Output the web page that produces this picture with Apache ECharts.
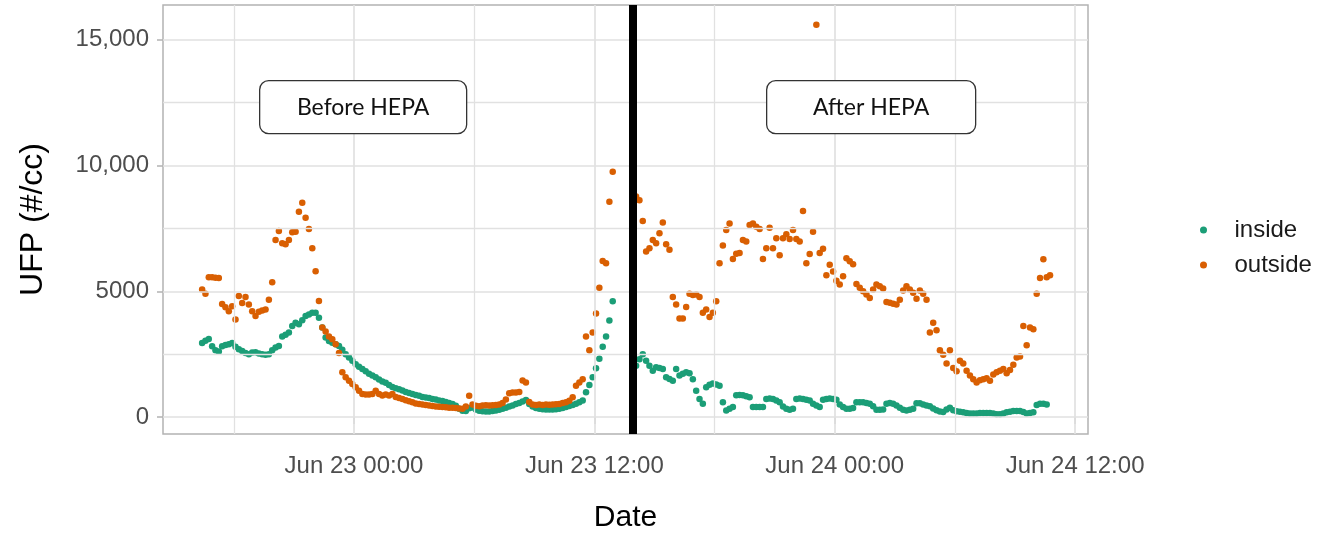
<!DOCTYPE html>
<html>
<head>
<meta charset="utf-8">
<title>UFP inside / outside</title>
<script src="https://cdn.jsdelivr.net/npm/echarts@6/dist/echarts.min.js"></script>
<style>
  html, body { margin: 0; padding: 0; background: #fff; }
  #chart { width: 1325px; height: 538px; }
</style>
</head>
<body>
<div id="chart"></div>
<script>
// times are 10 minute readings, Jun 22 16:25 onwards (UTC ms, shown on a value axis)
const HOUR = 3600 * 1000;
const STEP = 10 * 60 * 1000;
const DAY0 = Date.UTC(2021, 5, 23, 0, 0); // Jun 23 00:00
const beforeStart = Date.UTC(2021, 5, 22, 16, 25);
const afterStart = beforeStart + 130 * STEP;
const hepaTime = DAY0 + 13.9 * HOUR;

const insideBefore = [
  2950, 3040, 3110, 2820, 2660, 2610, 2820, 2870, 2900, 2950,
  2800, 2700, 2630, 2550, 2500, 2570, 2580, 2530, 2500, 2480,
  2500, 2660, 2770, 2830, 3200, 3270, 3360, 3620, 3750, 3690,
  3850, 4020, 4080, 4150, 4150, 3950, 3560, 3160, 3030, 2960,
  2900, 2830, 2680, 2500, 2370, 2240, 2100, 2000, 1910, 1820,
  1720, 1650, 1580, 1500, 1420, 1370, 1280, 1200, 1150, 1110,
  1060, 1000, 960, 920, 880, 850, 800, 780, 760, 720,
  700, 660, 640, 600, 560, 520, 450, 330, 250, 240,
  350, 380, 300, 250, 230, 220, 220, 240, 260, 290,
  330, 370, 420, 460, 520, 560, 620, 680, 520, 420,
  360, 330, 310, 300, 300, 300, 310, 330, 360, 400,
  440, 480, 530, 590, 660, 990, 1280, 1580, 1940, 2320,
  2800, 3200, 3840, 4610
];
const outsideBefore = [
  5070, 4900, 5560, 5560, 5540, 5530, 4500, 4370, 4210, 4410,
  3880, 4810, 4540, 4770, 4480, 4210, 4020, 4190, 4240, 4280,
  4670, 5360, 7040, 7400, 6910, 6870, 7040, 7350, 7370, 8160,
  8520, 7930, 7480, 6710, 5800, 4620, 3560, 3400, 3200, 3100,
  2900, 2550, 1780, 1580, 1450, 1320, 1190, 1050, 920, 900,
  900, 920, 1050, 920, 860, 900, 860, 920, 800, 760,
  720, 670, 630, 590, 540, 520, 500, 480, 460, 440,
  420, 410, 400, 390, 370, 370, 360, 340, 330, 420,
  850, 500, 450, 430, 460, 470, 460, 470, 480, 500,
  560, 700, 950, 980, 980, 1000, 1460, 1380, 600, 500,
  480, 500, 480, 500, 490, 500, 510, 520, 560, 590,
  650, 790, 1250, 1380, 1510, 3200, 2660, 3360, 4120, 5140,
  6210, 6120, 8560, 9750
];
const insideAfter = [
  2040, 2300, 2500, 2240, 2040, 1840, 1980, 1950, 1910, 1580,
  1520, 1450, 1910, 1650, 1720, 1780, 1740, 1510, 1050, 720,
  530, 1190, 1290, 1340, 1300, 1250, 590, 260, 330, 400,
  870, 880, 870, 830, 790, 400, 400, 400, 400, 720,
  740, 720, 660, 590, 420, 330, 290, 330, 720, 740,
  720, 690, 660, 530, 460, 400, 690, 720, 740, 720,
  690, 500, 400, 330, 330, 360, 590, 590, 590, 560,
  530, 430, 290, 290, 300, 530, 560, 530, 460, 370,
  290, 260, 290, 330, 550, 550, 500, 460, 430, 340,
  270, 220, 200, 300, 370, 270, 230, 210, 190, 160,
  140, 140, 140, 160, 160, 160, 160, 140, 110, 110,
  140, 190, 210, 240, 240, 240, 200, 140, 160, 190,
  480, 530, 530, 500
];
const outsideAfter = [
  8770, 8620, 7800, 6580, 6710, 7040, 6910, 7310, 7740, 6870,
  6650, 4770, 4480, 3920, 3920, 4380, 4900, 4850, 4870, 4770,
  4150, 4280, 3980, 4150, 4610, 6120, 6820, 7440, 7700, 6290,
  6490, 6520, 7040, 6980, 7640, 7700, 7570, 7480, 6290, 6710,
  7530, 6710, 7110, 6430, 7110, 7270, 7080, 7440, 7080, 6980,
  8190, 6120, 6480, 7370, 15600, 6520, 6690, 5640, 6060, 5790,
  5420, 5270, 5600, 6320, 6200, 6080, 5290, 5140, 5000, 4870,
  4740, 5070, 5270, 5200, 5110, 4580, 4550, 4510, 4480, 4670,
  5030, 5200, 5070, 4940, 4710, 5030, 4900, 4670, 3360, 3750,
  3450, 2660, 2480, 2130, 2660, 1950, 1820, 2240, 2130, 1840,
  1650, 1510, 1380, 1470, 1510, 1550, 1450, 1690, 1780, 1840,
  1910, 1740, 1870, 2080, 2370, 2410, 3620, 2860, 3560, 3490,
  4900, 5530, 6280, 5560, 5640
];

const xMajor = [0, 12, 24, 36].map(h => DAY0 + h * HOUR);
const xMinor = [-6, 6, 18, 30].map(h => DAY0 + h * HOUR);
const xTickLabels = ["Jun 23 00:00", "Jun 23 12:00", "Jun 24 00:00", "Jun 24 12:00"];
const yMajor = [0, 5000, 10000, 15000];
const yMinor = [2500, 7500, 12500];
const yTickLabels = ["0", "5000", "10,000", "15,000"];

const xMin = DAY0 - 9.536 * HOUR;
const xMax = DAY0 + 36.645 * HOUR;
const yMin = -671;
const yMax = 16382;

function toPoints(start, values) {
  return values.map((v, i) => [start + i * STEP, v]);
}

const FONT = "Liberation Sans";
const GREEN = "#1b9e77";
const ORANGE = "#d95f02";

const chart = echarts.init(document.getElementById("chart"));

const gridLines = [];
yMajor.forEach(v => gridLines.push({ yAxis: v, lineStyle: { width: 1.7 } }));
yMinor.forEach(v => gridLines.push({ yAxis: v, lineStyle: { width: 1.3 } }));
xMajor.forEach(v => gridLines.push({ xAxis: v, lineStyle: { width: 1.7 } }));
xMinor.forEach(v => gridLines.push({ xAxis: v, lineStyle: { width: 1.3 } }));

// rounded label box drawn over the panel
function noteBox(left, width, text) {
  return {
    type: "group",
    left: left, top: 80,
    children: [
      { type: "rect", z: 20, shape: { x: 0, y: 0, width: width, height: 53, r: 9 },
        style: { fill: "#fff", stroke: "#333", lineWidth: 1.3 } },
      { type: "text", z: 21, x: width / 2, y: 27,
        style: { text: text, font: "23px Lato", fill: "#111", align: "center", verticalAlign: "middle" } },
    ],
  };
}

chart.setOption({
  animation: false,
  backgroundColor: "#fff",
  textStyle: { fontFamily: FONT },
  grid: {
    left: 163, right: 237, top: 5, bottom: 101,
    show: true, borderColor: "#b3b3b3", borderWidth: 1.5,
    backgroundColor: "#fff",
  },
  legend: {
    data: ["inside", "outside"],
    orient: "vertical",
    left: 1195,
    top: 213,
    itemWidth: 52,
    itemHeight: 7,
    itemGap: 11,
    icon: "circle",
    textStyle: { fontSize: 24, color: "#1a1a1a", lineHeight: 24, fontFamily: FONT },
  },
  xAxis: {
    type: "value",
    min: xMin,
    max: xMax,
    name: "Date",
    nameLocation: "middle",
    nameGap: 69,
    nameTextStyle: { fontSize: 30, color: "#000", fontFamily: FONT },
    axisLine: { show: false },
    axisTick: { show: true, length: 7, customValues: xMajor, lineStyle: { color: "#b3b3b3", width: 1.5 } },
    axisLabel: {
      customValues: xMajor,
      margin: 20,
      fontSize: 24,
      color: "#4d4d4d",
      fontFamily: FONT,
      formatter: v => xTickLabels[xMajor.indexOf(v)] || "",
    },
    splitLine: { show: false },
  },
  yAxis: {
    type: "value",
    min: yMin,
    max: yMax,
    name: "UFP (#/cc)",
    nameLocation: "middle",
    nameGap: 114,
    nameTextStyle: { fontSize: 32, color: "#000", fontFamily: FONT },
    axisLine: { show: false },
    axisTick: { show: true, length: 6, customValues: yMajor, lineStyle: { color: "#b3b3b3", width: 1.5 } },
    axisLabel: {
      customValues: yMajor,
      margin: 14,
      fontSize: 24,
      color: "#4d4d4d",
      fontFamily: FONT,
      formatter: v => yTickLabels[yMajor.indexOf(v)] || "",
    },
    splitLine: { show: false },
  },
  graphic: [
    noteBox(259, 207, "Before HEPA"),
    noteBox(766, 209, "After HEPA"),
  ],
  series: [
    {
      name: "gridlines",
      type: "line",
      data: [],
      z: 1,
      silent: true,
      markLine: {
        silent: true,
        symbol: "none",
        label: { show: false },
        lineStyle: { color: "#e1e1e1", type: "solid" },
        data: gridLines,
      },
    },
    {
      name: "inside",
      type: "scatter",
      z: 3,
      symbolSize: 6.5,
      itemStyle: { color: GREEN, opacity: 1 },
      data: toPoints(beforeStart, insideBefore).concat(toPoints(afterStart, insideAfter)),
    },
    {
      name: "outside",
      type: "scatter",
      z: 3,
      symbolSize: 6.5,
      itemStyle: { color: ORANGE, opacity: 1 },
      data: toPoints(beforeStart, outsideBefore).concat(toPoints(afterStart, outsideAfter)),
    },
    {
      name: "hepa",
      type: "line",
      data: [],
      z: 5,
      silent: true,
      markLine: {
        silent: true,
        symbol: "none",
        label: { show: false },
        lineStyle: { color: "#000", width: 8, type: "solid" },
        data: [{ xAxis: hepaTime }],
      },
    },
  ],
});
</script>
</body>
</html>
